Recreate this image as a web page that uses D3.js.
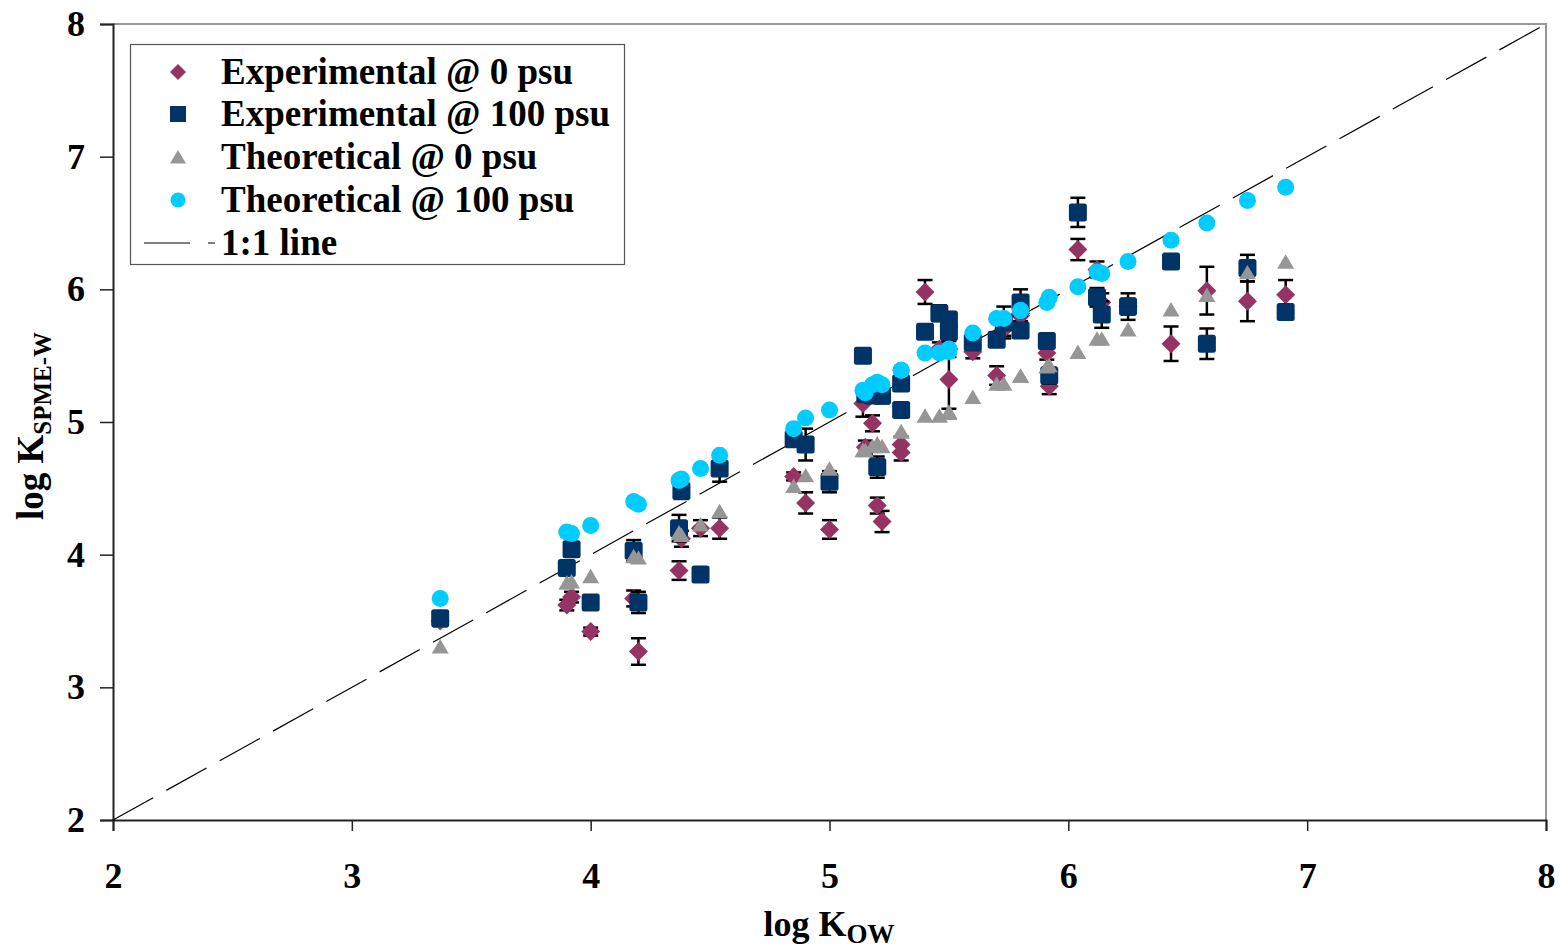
<!DOCTYPE html>
<html>
<head>
<meta charset="utf-8">
<script src="https://cdn.jsdelivr.net/npm/d3@7"></script>
<style>
  html, body { margin: 0; padding: 0; background: #fff; }
  svg text { font-family: "Liberation Serif", "Times New Roman", serif; font-weight: bold; fill: #000; }
</style>
</head>
<body>
<div id="chart"></div>
<script>
// log Kow of each compound
const logKow  = [3.37, 3.90, 3.92, 4.00, 4.18, 4.20, 4.37, 4.38, 4.46, 4.54,
                 4.85, 4.90, 5.00, 5.14, 5.15, 5.18, 5.20, 5.22, 5.30, 5.30,
                 5.40, 5.46, 5.50, 5.50, 5.60, 5.70, 5.73, 5.80, 5.80, 5.91,
                 5.92, 6.04, 6.12, 6.14, 6.25, 6.43, 6.58, 6.75, 6.91];
const exp0    = [3.50, 3.62, 3.68, 3.42, 3.67, 3.27, 3.88, 4.12, 4.20, 4.20,
                 4.59, 4.39, 4.19, 5.14, 4.81, 4.99, 4.37, 4.25, 4.83, 4.77,
                 5.98, 5.55, 5.32, 5.55, 5.53, 5.35, 5.70, 5.82, 5.80, 5.52,
                 5.27, 6.30, 6.15, 5.90, 5.87, 5.59, 5.99, 5.91, 5.96];
const exp0Err = [0.04, 0.04, 0.04, 0.03, 0.06, 0.10, 0.07, 0.06, 0.06, 0.08,
                 0.03, 0.08, 0.07, 0.10, 0.05, 0.06, 0.06, 0.08, 0.06, 0.06,
                 0.09, 0.05, 0.22, 0.06, 0.05, 0.07, 0.05, 0.06, 0.05, 0.05,
                 0.06, 0.08, 0.06, 0.07, 0.06, 0.13, 0.18, 0.15, 0.11];
const exp100  = [3.52, 3.90, 4.04, 3.64, 4.03, 3.64, 4.20, 4.48, 3.85, 4.65,
                 4.87, 4.83, 4.55, 5.50, 5.21, 5.20, 4.66, 5.20, 5.29, 5.09,
                 5.68, 5.82, 5.77, 5.68, 5.60, 5.62, 5.75, 5.90, 5.69, 5.61,
                 5.35, 6.58, 5.94, 5.81, 5.87, 6.21, 5.59, 6.16, 5.83];
const exp100Err = [0.05, 0.05, 0.05, 0.05, 0.08, 0.08, 0.10, 0.06, 0.04, 0.10,
                 0.04, 0.12, 0.08, 0.05, 0.05, 0.04, 0.08, 0.06, 0.05, 0.05,
                 0.05, 0.06, 0.06, 0.06, 0.05, 0.05, 0.12, 0.10, 0.05, 0.05,
                 0.06, 0.11, 0.07, 0.10, 0.10, 0.04, 0.115, 0.10, 0.04];
const theo0   = [3.30, 3.78, 3.79, 3.83, 3.98, 3.97, 4.16, 4.14, 4.22, 4.32,
                 4.51, 4.59, 4.64, 4.78, 4.78, 4.81, 4.83, 4.81, 4.92, 4.92,
                 5.04, 5.04, 5.07, 5.06, 5.18, 5.28, 5.28, 5.34, 5.34, 5.41,
                 5.42, 5.52, 5.62, 5.62, 5.69, 5.84, 5.95, 6.12, 6.20];
const theo100 = [3.67, 4.17, 4.16, 4.22, 4.40, 4.38, 4.56, 4.57, 4.65, 4.75,
                 4.95, 5.03, 5.09, 5.24, 5.22, 5.28, 5.30, 5.28, 5.39, 5.39,
                 5.52, 5.52, 5.55, 5.53, 5.67, 5.78, 5.78, 5.84, 5.84, 5.90,
                 5.94, 6.02, 6.13, 6.12, 6.21, 6.37, 6.50, 6.67, 6.77];

const ticks = [2, 3, 4, 5, 6, 7, 8];
const legendLabels = ["Experimental @ 0 psu", "Experimental @ 100 psu",
                      "Theoretical @ 0 psu", "Theoretical @ 100 psu", "1:1 line"];

const W = 1560, H = 949;
const plotL = 113, plotR = 1546, plotT = 24, plotB = 820;

const svg = d3.select("#chart").append("svg")
    .attr("width", W).attr("height", H);

const x = d3.scaleLinear().domain([2, 8]).range([plotL, plotR]);
const y = d3.scaleLinear().domain([2, 8]).range([plotB, plotT]);

// plot frame (grey top/right)
svg.append("path")
    .attr("d", `M${plotL},${plotT}H${plotR}V${plotB}`)
    .attr("fill", "none").attr("stroke", "#979797").attr("stroke-width", 2);

// axes
const yAxis = d3.axisLeft(y).tickValues(ticks).tickSize(13).tickPadding(14).tickFormat(d3.format("d"));
const xAxis = d3.axisBottom(x).tickValues(ticks).tickSize(11).tickPadding(31).tickFormat(d3.format("d"));

const gy = svg.append("g").attr("transform", `translate(${plotL},0)`).call(yAxis);
const gx = svg.append("g").attr("transform", `translate(0,${plotB})`).call(xAxis);
[gx, gy].forEach(g => {
  g.select(".domain").attr("stroke", "#222").attr("stroke-width", 2);
  g.selectAll(".tick line").attr("stroke", "#222").attr("stroke-width", 1.5);
  g.selectAll(".tick text").attr("font-size", 36)
    .style("font-family", "'Liberation Serif', serif").style("font-weight", "bold").attr("fill", "#000");
});
gy.selectAll(".tick text").attr("x", -28);

// 1:1 line
svg.append("line")
    .attr("x1", x(2)).attr("y1", y(2)).attr("x2", x(8)).attr("y2", y(8))
    .attr("stroke", "#000").attr("stroke-width", 1.2)
    .attr("stroke-dasharray", "46,15");

const pts = logKow.map((k, i) => ({k, e0: exp0[i], e0e: exp0Err[i], e1: exp100[i], e1e: exp100Err[i], t0: theo0[i], t1: theo100[i]}));

const COL_E0 = "#953462", COL_E1 = "#003366", COL_T0 = "#969696", COL_T1 = "#00CCFF";

function errorBars(g, key, errKey) {
  const cap = 7.5;
  const eb = g.selectAll("g.eb").data(pts.filter(d => d[key] != null)).join("g");
  eb.append("line")
    .attr("x1", d => x(d.k)).attr("x2", d => x(d.k))
    .attr("y1", d => y(d[key] + d[errKey])).attr("y2", d => y(d[key] - d[errKey]));
  eb.append("line")
    .attr("x1", d => x(d.k) - cap).attr("x2", d => x(d.k) + cap)
    .attr("y1", d => y(d[key] + d[errKey])).attr("y2", d => y(d[key] + d[errKey]));
  eb.append("line")
    .attr("x1", d => x(d.k) - cap).attr("x2", d => x(d.k) + cap)
    .attr("y1", d => y(d[key] - d[errKey])).attr("y2", d => y(d[key] - d[errKey]));
  eb.selectAll("line").attr("stroke", "#000").attr("stroke-width", 2.5);
}

const diamond = s => `M0,${-s}L${s},0L0,${s}L${-s},0Z`;
const triangle = s => `M0,${-s}L${s},${s * 0.7}L${-s},${s * 0.7}Z`;

// Experimental @ 0 psu
const g0 = svg.append("g");
errorBars(g0, "e0", "e0e");
g0.selectAll("path.m").data(pts).join("path")
    .attr("transform", d => `translate(${x(d.k)},${y(d.e0)})`)
    .attr("d", diamond(9.5)).attr("fill", COL_E0);

// Experimental @ 100 psu
const g1 = svg.append("g");
errorBars(g1, "e1", "e1e");
g1.selectAll("rect").data(pts).join("rect")
    .attr("x", d => x(d.k) - 9).attr("y", d => y(d.e1) - 9)
    .attr("width", 18).attr("height", 18).attr("rx", 2.5)
    .attr("fill", COL_E1);

// Theoretical @ 0 psu
svg.append("g").selectAll("path").data(pts).join("path")
    .attr("transform", d => `translate(${x(d.k)},${y(d.t0)})`)
    .attr("d", triangle(8.5)).attr("fill", COL_T0);

// Theoretical @ 100 psu
svg.append("g").selectAll("circle").data(pts).join("circle")
    .attr("cx", d => x(d.k)).attr("cy", d => y(d.t1)).attr("r", 8.5)
    .attr("fill", COL_T1);

// legend
const lg = svg.append("g");
lg.append("rect").attr("x", 130.5).attr("y", 44.5).attr("width", 494).attr("height", 220)
    .attr("fill", "#fff").attr("stroke", "#555").attr("stroke-width", 1.2);
const rowY = [72, 114, 157, 200, 243];
const mx = 178;
lg.append("path").attr("transform", `translate(${mx},${rowY[0]})`).attr("d", diamond(8)).attr("fill", COL_E0);
lg.append("rect").attr("x", mx - 8).attr("y", rowY[1] - 8).attr("width", 16).attr("height", 16).attr("fill", COL_E1);
lg.append("path").attr("transform", `translate(${mx},${rowY[2] + 1})`).attr("d", triangle(8)).attr("fill", COL_T0);
lg.append("circle").attr("cx", mx).attr("cy", rowY[3]).attr("r", 7.5).attr("fill", COL_T1);
lg.append("line").attr("x1", 144).attr("x2", 215).attr("y1", rowY[4]).attr("y2", rowY[4])
    .attr("stroke", "#000").attr("stroke-width", 1.2).attr("stroke-dasharray", "46,18");
lg.selectAll("text").data(legendLabels).join("text")
    .attr("x", 221).attr("y", (d, i) => rowY[i] + 12)
    .attr("font-size", 37).text(d => d);

// axis titles
const xt = svg.append("text").attr("x", 829).attr("y", 936).attr("text-anchor", "middle").attr("font-size", 36);
xt.append("tspan").text("log K");
xt.append("tspan").attr("dy", 7).attr("font-size", 27).text("OW");

const yt = svg.append("text").attr("transform", "translate(43,426) rotate(-90)")
    .attr("text-anchor", "middle").attr("font-size", 37);
yt.append("tspan").text("log K");
yt.append("tspan").attr("dy", 8).attr("font-size", 25).text("SPME-W");
</script>
</body>
</html>
